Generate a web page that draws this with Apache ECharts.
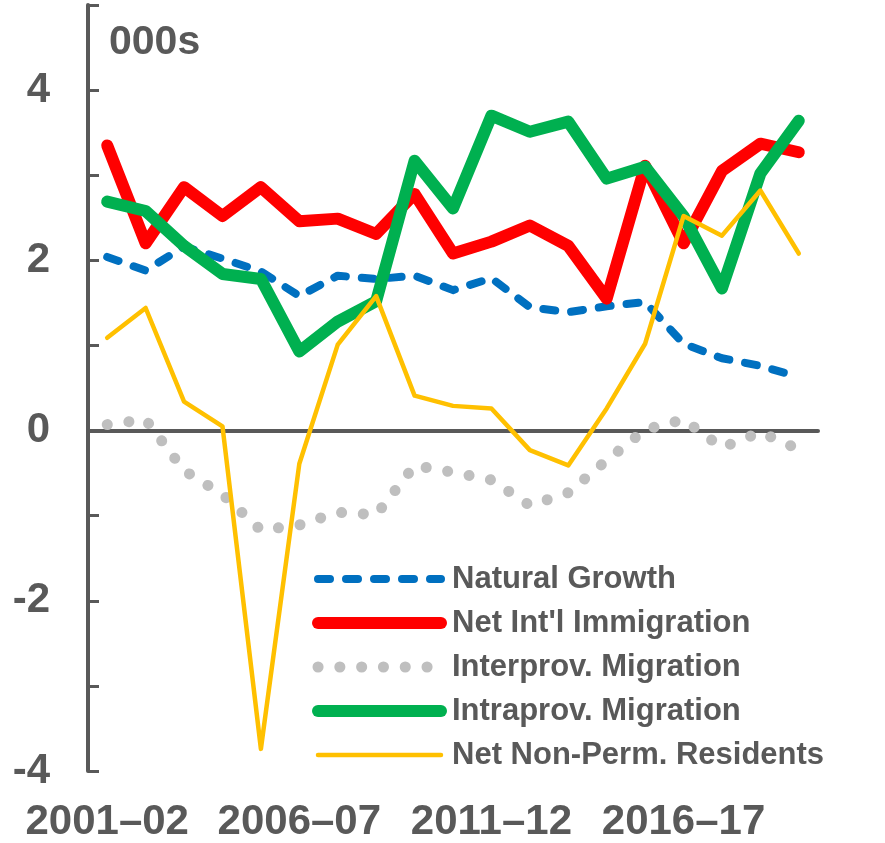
<!DOCTYPE html>
<html>
<head>
<meta charset="utf-8">
<script src="https://cdn.jsdelivr.net/npm/echarts@6/dist/echarts.min.js"></script>
<style>
  html, body { margin: 0; padding: 0; background: #fff; }
  #chart { width: 885px; height: 843px; }
</style>
</head>
<body>
<div id="chart"></div>
<script>
const years = [
  '2001–02', '2002–03', '2003–04', '2004–05', '2005–06', '2006–07', '2007–08',
  '2008–09', '2009–10', '2010–11', '2011–12', '2012–13', '2013–14', '2014–15',
  '2015–16', '2016–17', '2017–18', '2018–19', '2019–20',
];

// thousands of people
const naturalGrowth = [2.04, 1.88, 2.16, 2.02, 1.87, 1.58, 1.82, 1.78, 1.82, 1.65, 1.79, 1.45, 1.39, 1.46, 1.51, 1.02, 0.85, 0.76, 0.63];
const netIntlImmigration = [3.35, 2.2, 2.86, 2.52, 2.86, 2.46, 2.49, 2.31, 2.78, 2.08, 2.22, 2.41, 2.17, 1.55, 3.11, 2.2, 3.05, 3.37, 3.27];
const interprovMigration = [0.07, 0.13, -0.47, -0.75, -1.17, -1.11, -0.96, -0.99, -0.41, -0.49, -0.58, -0.88, -0.73, -0.35, 0.01, 0.13, -0.2, -0.02, -0.22];
const intraprovMigration = [2.69, 2.58, 2.17, 1.84, 1.78, 0.93, 1.28, 1.52, 3.17, 2.61, 3.7, 3.51, 3.63, 2.96, 3.1, 2.52, 1.67, 3.02, 3.64];
const netNonPermResidents = [1.09, 1.44, 0.34, 0.05, -3.74, -0.39, 1.01, 1.58, 0.41, 0.29, 0.26, -0.23, -0.41, 0.26, 1.02, 2.52, 2.29, 2.82, 2.08];

const yLabels = [4, 2, 0, -2, -4];

const grey = '#595959';

const seriesDefs = [
  { name: 'Natural Growth', data: naturalGrowth, color: '#0070C0', width: 8, type: [12, 16] },
  { name: "Net Int'l Immigration", data: netIntlImmigration, color: '#FF0000', width: 12, type: 'solid' },
  { name: 'Interprov. Migration', data: interprovMigration, color: '#BFBFBF', width: 11, type: [0.1, 21.7] },
  { name: 'Intraprov. Migration', data: intraprovMigration, color: '#00B050', width: 12, type: 'solid' },
  { name: 'Net Non-Perm. Residents', data: netNonPermResidents, color: '#FFC000', width: 4.5, type: 'solid' },
];

const chart = echarts.init(document.getElementById('chart'), null, { renderer: 'canvas' });

chart.setOption({
  animation: false,
  title: {
    text: '000s',
    left: 109,
    top: 22,
    padding: 0,
    textStyle: { fontFamily: 'Liberation Sans', fontWeight: 'bold', fontSize: 41, color: grey },
  },
  grid: { left: 88, right: 67, top: 5, bottom: 72 },
  legend: {
    orient: 'vertical',
    left: 312,
    top: 559,
    padding: 0,
    itemWidth: 123,
    itemHeight: 12,
    itemGap: 4,
    textStyle: {
      fontFamily: 'Liberation Sans, Arial, sans-serif',
      fontWeight: 'bold',
      fontSize: 31,
      lineHeight: 40,
      padding: [0, 0, 0, 6],
      color: grey,
    },
    data: seriesDefs.map((s) => ({
      name: s.name,
      lineStyle: { width: s.width, type: s.type, cap: 'round', color: s.color },
      itemStyle: { opacity: 0 }, // hide the symbol drawn in the middle of the icon
    })),
  },
  xAxis: [
    {
      type: 'category',
      data: years,
      boundaryGap: true,
      axisLine: { onZero: true, lineStyle: { color: grey, width: 4 } },
      axisTick: { inside: true, length: 11, interval: 1, lineStyle: { color: grey, width: 3 } },
      axisLabel: { show: false },
      splitLine: { show: false },
    },
    {
      type: 'category',
      data: years,
      position: 'bottom',
      boundaryGap: true,
      axisLine: { show: false, onZero: false },
      axisTick: { show: false },
      axisLabel: {
        interval: 4,
        margin: 30,
        fontFamily: 'Liberation Sans',
        fontWeight: 'bold',
        fontSize: 42,
        color: grey,
      },
      splitLine: { show: false },
    },
  ],
  yAxis: {
    type: 'value',
    min: -4,
    max: 5,
    interval: 1,
    axisLine: { show: true, lineStyle: { color: grey, width: 4 } },
    axisTick: { show: true, inside: true, length: 11, lineStyle: { color: grey, width: 3 } },
    splitLine: { show: false },
    axisLabel: {
      margin: 38,
      fontFamily: 'Liberation Sans',
      fontWeight: 'bold',
      fontSize: 42,
      color: grey,
      formatter: (v) => (yLabels.includes(v) ? String(v) : ''),
    },
  },
  series: seriesDefs.map((s) => ({
    name: s.name,
    type: 'line',
    xAxisIndex: 0,
    data: s.data,
    symbol: 'none',
    lineStyle: { color: s.color, width: s.width, type: s.type, cap: 'round', join: 'round' },
    itemStyle: { color: s.color },
  })),
});
</script>
</body>
</html>
